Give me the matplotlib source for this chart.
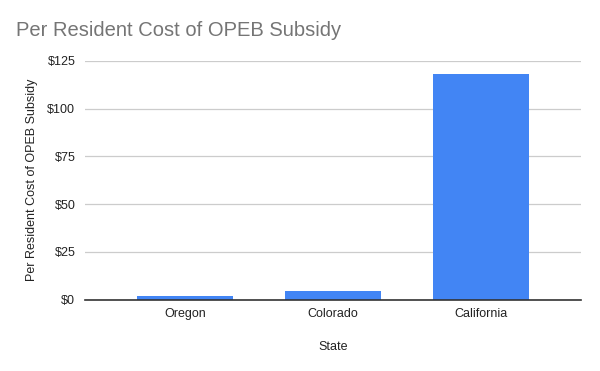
import matplotlib
matplotlib.use("Agg")
import matplotlib.pyplot as plt

states = ["Oregon", "Colorado", "California"]
cost = [2.0, 4.6, 118.2]
yticks = [0, 25, 50, 75, 100, 125]
ytick_labels = ["$0", "$25", "$50", "$75", "$100", "$125"]

plt.rcParams['font.family'] = ['Liberation Sans', 'DejaVu Sans']

fig = plt.figure(figsize=(6, 3.71), dpi=100)
ax = fig.add_axes([85/600, 1-299.5/371, (581-85)/600, (299.5-61)/371])

x = list(range(len(states)))
ax.bar(x, cost, width=0.649, color="#4285f4", zorder=3)
ax.set_xlim(-0.676, len(states)-1+0.676)
ax.set_ylim(0, 125)
ax.set_yticks(yticks)
ax.set_yticklabels(ytick_labels)
ax.set_xticks(x)
ax.set_xticklabels(states)
ax.grid(axis='y', color="#cccccc", linewidth=0.9, zorder=0)
for s in ["top", "right", "left"]:
    ax.spines[s].set_visible(False)
ax.spines["bottom"].set_color("#333333")
ax.spines["bottom"].set_linewidth(1.2)
ax.spines["bottom"].set_zorder(4)
ax.tick_params(axis='both', length=0, labelsize=9, colors="#222222")
ax.tick_params(axis='y', pad=7)
ax.tick_params(axis='x', pad=6)
ax.set_xlabel("State", fontsize=9, color="#222222", labelpad=15)
ax.set_ylabel("Per Resident Cost of OPEB Subsidy", fontsize=9, color="#222222", labelpad=7)
fig.text(16/600, 1-31/371, "Per Resident Cost of OPEB Subsidy", fontsize=14.5, color="#757575", va="center", ha="left")

fig.savefig("out.png", dpi=100)
